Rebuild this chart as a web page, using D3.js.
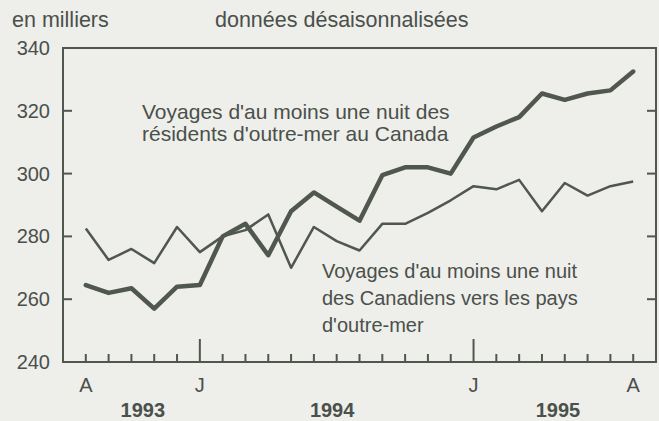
<!DOCTYPE html>
<html>
<head>
<meta charset="utf-8">
<script src="https://cdn.jsdelivr.net/npm/d3@7"></script>
<style>
  html, body { margin: 0; padding: 0; background: #eeeeeb; }
  svg { display: block; }
  text { font-family: "Liberation Sans", Arial, sans-serif; fill: #4a504a; }
</style>
</head>
<body>
<div id="chart"></div>
<script>
// Monthly data, August 1993 to August 1995 (thousands, seasonally adjusted)
const months = d3.range(25);   // 0 = août 1993 ... 24 = août 1995

// Voyages d'au moins une nuit des résidents d'outre-mer au Canada (thick)
const overseasResidents = [264.5, 262, 263.5, 257, 264, 264.5, 280, 284, 274, 288, 294, 289.5,
  285, 299.5, 302, 302, 300, 311.5, 315, 318, 325.5, 323.5, 325.5, 326.5, 332.5];

// Voyages d'au moins une nuit des Canadiens vers les pays d'outre-mer (thin)
const canadiansOverseas = [282.5, 272.5, 276, 271.5, 283, 275, 280, 282, 287, 270, 283, 278.5,
  275.5, 284, 284, 287.5, 291.5, 296, 295, 298, 288, 297, 293, 296, 297.5];

const yTicks = [240, 260, 280, 300, 320, 340];
const monthLabels = [{ m: 0, label: 'A' }, { m: 5, label: 'J' }, { m: 17, label: 'J' }, { m: 24, label: 'A' }];
const yearLabels = [{ m: 2.5, label: '1993' }, { m: 10.8, label: '1994' }, { m: 20.7, label: '1995' }];
const januaries = [5, 17];

const W = 659, H = 421;
const INK = '#4f574f';
const plot = { left: 63, right: 656, top: 48, bottom: 362 };

const svg = d3.select('#chart').append('svg').attr('width', W).attr('height', H);

const x = d3.scaleLinear().domain([-1, 25]).range([plot.left, plot.right]);
const y = d3.scaleLinear().domain([240, 340]).range([plot.bottom, plot.top]);

// headers
svg.append('text').attr('x', 12).attr('y', 27).attr('font-size', 21.5).text('en milliers');
svg.append('text').attr('x', 215).attr('y', 27).attr('font-size', 21.5).text('données désaisonnalisées');

// y tick labels
svg.append('g').selectAll('text').data(yTicks).join('text')
  .attr('x', 50).attr('y', d => y(d) + 7)
  .attr('text-anchor', 'end').attr('font-size', 20)
  .text(d => d);

// inner ticks on left and right edges
const tickG = svg.append('g').attr('stroke', INK).attr('stroke-width', 2);
tickG.selectAll('.yl').data(yTicks.slice(1, -1)).join('line')
  .attr('x1', plot.left).attr('x2', plot.left + 9)
  .attr('y1', d => y(d)).attr('y2', d => y(d));
tickG.selectAll('.yr').data(yTicks.slice(1, -1)).join('line')
  .attr('x1', plot.right).attr('x2', plot.right - 9)
  .attr('y1', d => y(d)).attr('y2', d => y(d));

// month ticks along the bottom
tickG.selectAll('.xm').data(months).join('line')
  .attr('x1', d => x(d)).attr('x2', d => x(d))
  .attr('y1', plot.bottom)
  .attr('y2', d => januaries.includes(d) ? plot.bottom - 23 : plot.bottom - 8);

// frame
svg.append('rect')
  .attr('x', plot.left).attr('y', plot.top)
  .attr('width', plot.right - plot.left).attr('height', plot.bottom - plot.top)
  .attr('fill', 'none').attr('stroke', INK).attr('stroke-width', 2);

// month and year labels
svg.append('g').selectAll('text').data(monthLabels).join('text')
  .attr('x', d => x(d.m)).attr('y', 392)
  .attr('text-anchor', 'middle').attr('font-size', 20)
  .text(d => d.label);
svg.append('g').selectAll('text').data(yearLabels).join('text')
  .attr('x', d => x(d.m)).attr('y', 417)
  .attr('text-anchor', 'middle').attr('font-size', 20).attr('font-weight', 'bold')
  .text(d => d.label);

// lines
const line = d3.line().x((d, i) => x(months[i])).y(d => y(d));

svg.append('path').datum(canadiansOverseas)
  .attr('d', line).attr('fill', 'none')
  .attr('stroke', INK).attr('stroke-width', 2.5).attr('stroke-linejoin', 'round');

svg.append('path').datum(overseasResidents)
  .attr('d', line).attr('fill', 'none')
  .attr('stroke', INK).attr('stroke-width', 4.5)
  .attr('stroke-linejoin', 'round').attr('stroke-linecap', 'round');

// annotations
const note1 = svg.append('text').attr('font-size', 21);
note1.append('tspan').attr('x', 142).attr('y', 119).text("Voyages d'au moins une nuit des");
note1.append('tspan').attr('x', 142).attr('y', 141).text("résidents d'outre-mer au Canada");

const note2 = svg.append('text').attr('font-size', 20);
note2.append('tspan').attr('x', 322).attr('y', 278).text("Voyages d'au moins une nuit");
note2.append('tspan').attr('x', 322).attr('y', 305).text('des Canadiens vers les pays');
note2.append('tspan').attr('x', 322).attr('y', 332).text("d'outre-mer");
</script>
</body>
</html>
